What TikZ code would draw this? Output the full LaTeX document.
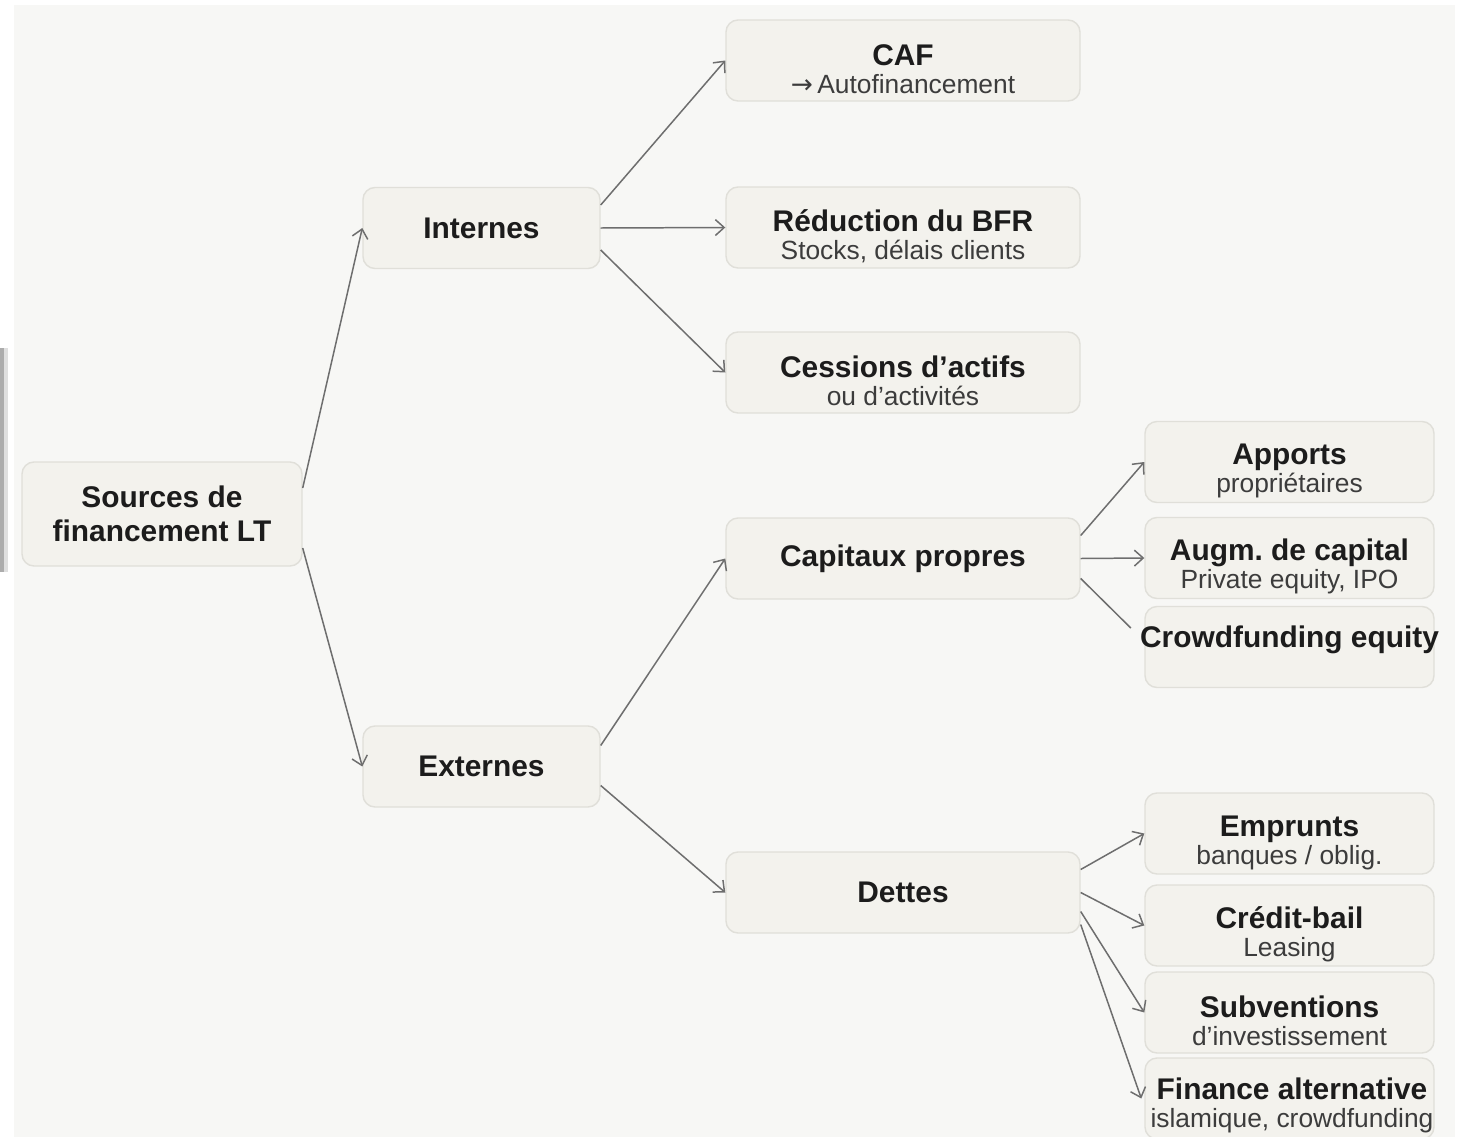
\documentclass[tikz,border=0pt]{standalone}
\usepackage{fontspec}
\setmainfont{Liberation Sans}
\newfontfamily\arrowfont{DejaVu Sans}
\usetikzlibrary{arrows.meta}
\definecolor{panel}{HTML}{F7F7F5}
\definecolor{boxfill}{HTML}{F3F2ED}
\definecolor{boxline}{HTML}{E0DFD9}
\definecolor{linkgray}{HTML}{6E6E6E}
\definecolor{txt}{HTML}{1C1C1C}
\definecolor{subtxt}{HTML}{3C3C3C}
\newcommand{\subline}[1]{{\fontsize{15}{16}\selectfont\mdseries\color{subtxt}#1}}
\newcommand{\twoline}[2]{\rule{0pt}{22pt}#1\\\subline{#2}}

\begin{document}
\begin{tikzpicture}[box/.style={rectangle, rounded corners=0.24cm, draw=boxline, line width=0.8pt, fill=boxfill, text=txt, font=\fontsize{17}{16}\selectfont\bfseries, align=center, inner sep=0pt}, root box/.style={box, minimum width=5.6cm, minimum height=2.08cm, font=\fontsize{17}{19.5}\selectfont\bfseries}, mid box/.style={box, minimum width=4.74cm, minimum height=1.62cm}, wide box/.style={box, minimum width=7.08cm, minimum height=1.62cm}, leaf box/.style={box, minimum width=5.78cm, minimum height=1.62cm}, label/.style={text=txt, font=\fontsize{17}{16}\selectfont\bfseries, align=center, inner sep=0pt}, edge/.style={draw=linkgray, line width=0.85pt, -{Straight Barb[length=5pt, width=9pt]}}, plain edge/.style={draw=linkgray, line width=0.85pt}]
		\useasboundingbox (0,0) rectangle (29.14,-22.74);
		\fill[white] (0,0) rectangle (29.14,-22.74);
		\fill[panel] (0.28,-0.1) rectangle (29.1,-22.74);
		\fill[gray!25] (0.06,-6.96) rectangle (0.16,-11.44);
		\fill[gray!65] (0,-6.96) rectangle (0.07,-11.44);

		\node (src)[root box] at (3.24,-10.28){Sources de\\financement LT};

		\node (int)[mid box] at (9.63,-4.56){Internes};
		\node (ext)[mid box] at (9.63,-15.33){Externes};

		\node (caf)[wide box] at (18.06,-1.21){\twoline{CAF}{{\arrowfont →}\,Autofinancement}};
		\node (bfr)[wide box] at (18.06,-4.55){\twoline{Réduction du BFR}{Stocks, délais clients}};
		\node (ces)[wide box] at (18.06,-7.45){\twoline{Cessions d’actifs}{ou d’activités}};
		\node (cap)[wide box] at (18.06,-11.17){Capitaux propres};
		\node (det)[wide box] at (18.06,-17.85){Dettes};

		\node (app)[leaf box] at (25.79,-9.24){\twoline{Apports}{propriétaires}};
		\node (aug)[leaf box] at (25.79,-11.16){\twoline{Augm.\ de capital}{Private equity, IPO}};
		\node (crw)[leaf box] at (25.79,-12.94){};
		\node (crwtxt)[label] at (25.79,-12.8){Crowdfunding equity};

		\node (emp)[leaf box] at (25.79,-16.67){\twoline{Emprunts}{banques / oblig.}};
		\node (cre)[leaf box] at (25.79,-18.51){\twoline{Crédit-bail}{Leasing}};
		\node (sub)[leaf box] at (25.79,-20.25){\twoline{Subventions}{d’investissement}};
		\node (fin)[leaf box] at (25.79,-21.97){};
		\node (fintxt)[label] at (25.84,-22.1){Finance alternative\\\subline{islamique, crowdfunding}};

		\path ([yshift=0.52cm]src.east) edge [edge] (int.west);
		\path ([yshift=-0.68cm]src.east) edge [edge] (ext.west);
		\path ([yshift=0.46cm]int.east) edge [edge] (caf.west);
		\path (int.east) edge [edge] (bfr.west);
		\path ([yshift=-0.44cm]int.east) edge [edge] (ces.west);
		\path ([yshift=0.42cm]ext.east) edge [edge] (cap.west);
		\path ([yshift=-0.38cm]ext.east) edge [edge] (det.west);
		\path ([yshift=0.46cm]cap.east) edge [edge] (app.west);
		\path (cap.east) edge [edge] (aug.west);
		\path ([yshift=-0.4cm]cap.east) edge [plain edge] ([xshift=-0.18cm, yshift=0.24cm]crwtxt.west);
		\path ([yshift=0.46cm]det.east) edge [edge] (emp.west);
		\path (det.east) edge [edge] (cre.west);
		\path ([yshift=-0.38cm]det.east) edge [edge] (sub.west);
		\path ([yshift=-0.64cm]det.east) edge [edge] ([xshift=-0.06cm]fin.west);
	\end{tikzpicture}
\end{document}
